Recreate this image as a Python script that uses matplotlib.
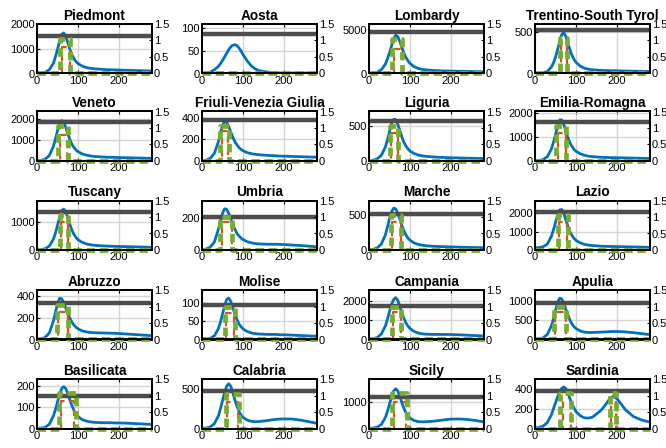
import matplotlib
matplotlib.use("Agg")
import matplotlib.pyplot as plt
from matplotlib.ticker import FormatStrFormatter

plt.rcParams['font.family'] = ['Liberation Sans', 'DejaVu Sans']

days = [0, 10, 20, 30, 40, 45, 50, 55, 60, 65, 70, 75, 80, 85, 90, 95, 100,
        110, 120, 130, 140, 160, 170, 180, 190, 200, 220, 240, 260, 280]

regions = ["Piedmont", "Aosta", "Lombardy", "Trentino-South Tyrol",
           "Veneto", "Friuli-Venezia Giulia", "Liguria", "Emilia-Romagna",
           "Tuscany", "Umbria", "Marche", "Lazio",
           "Abruzzo", "Molise", "Campania", "Apulia",
           "Basilicata", "Calabria", "Sicily", "Sardinia"]

piedmont = [10, 20, 50, 150, 420, 680, 980, 1300, 1580, 1640, 1500, 1250, 980, 760, 600, 480, 400,
            300, 240, 210, 190, 165, 155, 150, 145, 140, 130, 120, 110, 100]
aosta = [0, 1, 3, 8, 16, 22, 29, 37, 45, 53, 59, 63, 64, 62, 57, 50, 42,
         28, 17, 10, 6, 3, 2, 2, 1, 1, 1, 1, 1, 1]
lombardy = [30, 60, 150, 420, 1100, 1700, 2400, 3200, 3950, 4400, 4250, 3700, 3000, 2350, 1850, 1450, 1150,
            780, 580, 470, 410, 340, 320, 300, 290, 280, 260, 240, 220, 200]
trentino = [0, 2, 8, 25, 80, 130, 200, 290, 390, 470, 495, 450, 370, 290, 220, 170, 135,
            90, 65, 52, 45, 38, 36, 35, 34, 33, 30, 28, 26, 24]
veneto = [10, 30, 90, 260, 700, 1050, 1450, 1780, 1920, 1850, 1600, 1300, 1020, 800, 640, 520, 440,
          340, 280, 240, 215, 190, 180, 175, 170, 165, 155, 145, 135, 125]
friuli = [2, 8, 25, 70, 180, 260, 330, 370, 360, 320, 270, 220, 180, 150, 125, 108, 95,
          78, 68, 62, 58, 52, 50, 48, 46, 45, 42, 40, 38, 35]
liguria = [5, 12, 30, 80, 200, 300, 420, 530, 590, 585, 520, 430, 340, 265, 210, 170, 140,
           105, 85, 72, 65, 56, 53, 50, 48, 46, 43, 40, 37, 35]
emilia = [5, 20, 60, 180, 500, 780, 1100, 1450, 1700, 1700, 1520, 1250, 980, 760, 600, 480, 400,
          300, 240, 200, 180, 155, 148, 142, 138, 134, 127, 120, 113, 105]
tuscany = [5, 15, 45, 140, 380, 600, 870, 1150, 1380, 1440, 1340, 1130, 900, 700, 550, 440, 360,
           270, 215, 185, 165, 145, 138, 132, 128, 124, 117, 110, 103, 95]
umbria = [2, 6, 18, 50, 130, 180, 230, 258, 255, 230, 195, 160, 130, 105, 88, 75, 65,
          52, 45, 40, 38, 36, 36, 36, 35, 34, 31, 28, 24, 20]
marche = [3, 10, 30, 85, 220, 330, 450, 550, 600, 590, 530, 440, 350, 275, 215, 170, 140,
          100, 80, 68, 60, 52, 50, 48, 46, 44, 41, 38, 35, 33]
lazio = [120, 130, 180, 320, 750, 1100, 1500, 1900, 2180, 2200, 2000, 1650, 1300, 1000, 790, 630, 520,
         390, 310, 265, 240, 210, 200, 195, 190, 185, 175, 165, 155, 145]
abruzzo = [2, 6, 20, 60, 170, 250, 330, 378, 375, 340, 290, 240, 195, 160, 132, 112, 98,
           80, 70, 65, 62, 60, 59, 58, 57, 55, 50, 45, 40, 35]
molise = [0, 1, 3, 10, 30, 48, 70, 92, 110, 114, 105, 88, 70, 55, 43, 35, 29,
          22, 18, 16, 15, 14, 14, 14, 13, 13, 12, 11, 10, 9]
campania = [20, 40, 100, 280, 700, 1050, 1450, 1800, 2050, 2150, 2020, 1720, 1380, 1080, 850, 680, 560,
            410, 330, 290, 270, 260, 260, 260, 258, 255, 240, 220, 200, 180]
apulia = [5, 15, 45, 130, 350, 530, 750, 950, 1060, 1040, 930, 780, 630, 500, 400, 330, 280,
          220, 190, 180, 180, 190, 195, 200, 205, 205, 195, 175, 150, 125]
basilicata = [0, 2, 6, 20, 60, 90, 125, 160, 188, 197, 188, 165, 135, 108, 85, 68, 56,
              42, 35, 31, 29, 27, 27, 27, 26, 26, 25, 23, 21, 19]
calabria = [2, 6, 20, 60, 160, 250, 350, 450, 530, 560, 530, 450, 360, 280, 215, 170, 140,
            105, 90, 85, 88, 100, 108, 114, 118, 120, 118, 105, 85, 65]
sicily = [5, 15, 50, 150, 420, 650, 920, 1200, 1420, 1500, 1420, 1220, 980, 760, 590, 470, 390,
          300, 260, 250, 255, 280, 300, 320, 340, 355, 360, 340, 300, 250]
sardinia = [5, 10, 25, 60, 140, 200, 260, 320, 370, 405, 420, 405, 360, 300, 250, 205, 170,
            130, 108, 105, 115, 180, 230, 290, 325, 300, 190, 120, 85, 65]

cases = [piedmont, aosta, lombardy, trentino, veneto, friuli, liguria, emilia,
         tuscany, umbria, marche, lazio, abruzzo, molise, campania, apulia,
         basilicata, calabria, sicily, sardinia]

# left axis upper limit and ticks, grey threshold level
ymax = [2000, 110, 5700, 600, 2350, 460, 700, 2050, 1740, 310, 710, 2690,
        455, 136, 2540, 1270, 233, 620, 1870, 500]
yticks = [[0, 1000, 2000], [0, 50, 100], [0, 5000], [0, 500],
          [0, 1000, 2000], [0, 200, 400], [0, 500], [0, 1000, 2000],
          [0, 1000], [0, 200], [0, 500], [0, 1000, 2000],
          [0, 200, 400], [0, 50, 100], [0, 1000, 2000], [0, 500, 1000],
          [0, 100, 200], [0, 500], [0, 1000], [0, 200, 400]]
threshold = [1500, 88, 4800, 530, 1860, 385, 560, 1610, 1350, 205, 520, 2040,
             334, 94, 1740, 930, 151, 470, 1200, 383]

# control pulses on the right axis: (start day, end day, level)
green_pulses = [[(57, 80, 1.05)], [], [(57, 80, 1.05)], [(62, 79, 1.09)],
                [(52, 76, 1.05)], [(45, 66, 1.05)], [(50, 71, 1.05)], [(52, 76, 1.05)],
                [(56, 76, 1.05)], [(44, 73, 1.0)], [(54, 79, 1.05)], [(56, 80, 1.05)],
                [(48, 76, 1.05)], [(56, 80, 1.0)], [(56, 79, 1.0)], [(46, 76, 1.0)],
                [(54, 94, 1.07)], [(58, 90, 1.05)], [(56, 93, 1.08)],
                [(62, 87, 1.08), (183, 196, 1.08)]]
red_pulses = [[(60, 80, 0.8)], [], [(60, 80, 0.75)], [(64, 78, 0.85)],
              [(56, 72, 0.8)], [(48, 64, 0.9)], [(53, 70, 0.85)], [(55, 75, 0.85)],
              [(58, 75, 0.84)], [(48, 72, 0.84)], [(57, 78, 0.84)], [(59, 79, 0.84)],
              [(50, 75, 0.83)], [(59, 79, 0.8)], [(58, 78, 0.83)], [(48, 75, 0.83)],
              [(58, 89, 0.82)], [(60, 88, 0.8)], [(60, 89, 0.8)],
              [(67, 87, 0.8), (186, 196, 0.95)]]

col_left = [37, 202, 369, 535]
row_top = [24, 111.5, 200.5, 290, 379]
W, H = 666, 448
aw, ah = 115, 49.5

blue = "#0072BD"
red = "#D95319"
green = "#77AC30"
grey = "#4D4D4D"


def pulse_line(pulses):
    xs, ys = [0], [0]
    for a, b, lvl in pulses:
        xs += [a, a, b, b]
        ys += [0, lvl, lvl, 0]
    xs.append(280)
    ys.append(0)
    return xs, ys


fig = plt.figure(figsize=(W / 100, H / 100), dpi=100)

for i, name in enumerate(regions):
    r, c = divmod(i, 4)
    ax = fig.add_axes([col_left[c] / W, 1 - (row_top[r] + ah) / H, aw / W, ah / H])
    ax.grid(True, color="#D4D4D4", linewidth=1.0)
    ax.set_axisbelow(True)
    ax.plot(days, cases[i], color=blue, linewidth=2.0)
    ax.axhline(threshold[i], color=grey, linewidth=3.2)
    ax.set_xlim(0, 280)
    ax.set_ylim(0, ymax[i])
    ax.set_xticks([0, 100, 200])
    ax.set_yticks(yticks[i])
    ax.set_title(name, fontsize=9.8, fontweight="bold", pad=3)

    ax2 = ax.twinx()
    xr, yr = pulse_line(red_pulses[i])
    ax2.plot(xr, yr, color=red, linewidth=1.6, linestyle=(0, (3, 2.5)), clip_on=False)
    xg, yg = pulse_line(green_pulses[i])
    ax2.plot(xg, yg, color=green, linewidth=3.4, linestyle=(0, (1.8, 1.0)), clip_on=False)
    ax2.set_ylim(0, 1.5)
    ax2.set_yticks([0, 0.5, 1, 1.5])
    ax2.yaxis.set_major_formatter(FormatStrFormatter('%g'))
    ax2.set_xlim(0, 280)

    for a in (ax, ax2):
        for s in a.spines.values():
            s.set_linewidth(1.4)
        a.tick_params(direction="in", length=2.5, width=0.8, labelsize=8, pad=1.5)
    ax.tick_params(axis="x", top=True)

fig.savefig("out.png", dpi=100)
